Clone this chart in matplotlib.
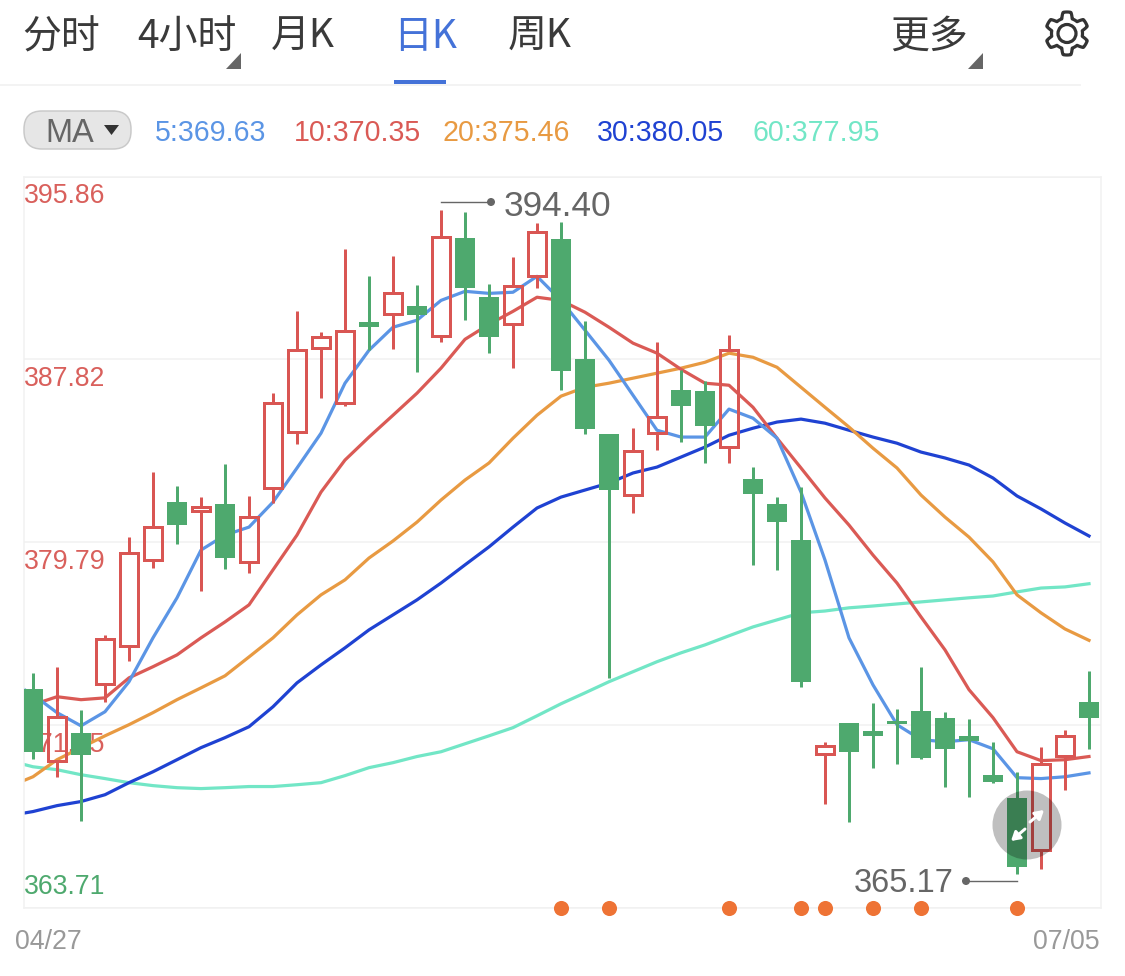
import numpy as np
import matplotlib
matplotlib.use("Agg")
import matplotlib.pyplot as plt
from matplotlib.patches import Circle, FancyBboxPatch, Polygon, Rectangle

# ==========================================
# 1. DATA (harga)
# ==========================================
opens = [373.33, 370.17, 371.40, 373.55, 375.22, 378.99, 381.54, 381.15, 381.45, 378.91,
         382.16, 384.62, 388.31, 385.89, 389.45, 389.80, 390.15, 388.83, 393.14, 390.55,
         389.36, 391.47, 393.09, 387.82, 384.53, 381.85, 384.57, 386.46, 386.42, 383.96,
         382.55, 381.45, 379.87, 370.47, 371.84, 371.48, 371.92, 372.36, 372.06, 371.26,
         369.55, 368.54, 366.26, 370.39, 372.76]
closes = [370.56, 372.10, 370.43, 375.52, 379.30, 380.44, 380.53, 381.32, 379.08, 380.88,
          385.89, 388.22, 388.79, 389.05, 389.23, 390.72, 389.76, 393.18, 390.94, 388.79,
          391.03, 393.44, 387.30, 384.75, 382.07, 383.78, 385.28, 385.76, 384.88, 388.22,
          381.89, 380.66, 373.64, 370.83, 370.56, 371.26, 371.79, 370.30, 370.69, 371.05,
          369.25, 365.47, 370.04, 371.26, 372.06]
highs = [374.03, 374.30, 372.41, 375.70, 380.00, 382.86, 382.24, 381.76, 383.21, 381.81,
         386.33, 389.93, 389.01, 392.65, 391.47, 392.35, 391.07, 394.40, 394.28, 391.12,
         392.30, 393.80, 393.84, 389.49, 384.53, 384.79, 388.57, 387.34, 386.86, 388.88,
         383.08, 381.76, 382.20, 371.00, 371.84, 372.71, 372.45, 374.30, 372.32, 372.01,
         371.00, 369.68, 370.78, 371.53, 374.12]
lows = [370.25, 369.46, 367.53, 372.76, 374.56, 378.64, 379.70, 377.63, 378.60, 378.42,
        381.50, 384.09, 386.11, 385.76, 388.22, 388.26, 387.25, 388.57, 389.54, 388.09,
        387.43, 390.94, 386.46, 384.53, 373.81, 381.06, 383.83, 384.18, 383.26, 383.26,
        378.78, 378.56, 373.42, 368.28, 367.49, 369.86, 370.04, 370.25, 369.03, 368.59,
        369.20, 365.17, 365.42, 368.89, 370.69]

# nilai pertama = hari sebelum candle pertama (kepotong di sisi kiri)
ma5 = [373.68, 373.07, 372.28, 371.70, 372.32, 373.64, 375.57, 377.33, 379.43, 380.09, 380.44,
       381.54, 383.04, 384.57, 386.77, 388.22, 389.23, 389.54, 390.41, 390.81, 390.72,
       390.77, 391.47, 390.41, 389.10, 387.78, 386.24, 384.70, 384.40, 384.40, 385.63,
       385.23, 384.35, 381.98, 378.99, 375.57, 373.50, 371.75, 371.09, 371.00, 371.09,
       370.69, 369.42, 369.38, 369.46, 369.63]
ma10 = [372.50, 372.63, 372.98, 372.85, 372.93, 373.81, 374.30, 374.82, 375.57, 376.27, 377.02,
        378.56, 380.09, 381.98, 383.39, 384.40, 385.36, 386.33, 387.43, 388.70, 389.36,
        389.93, 390.55, 390.41, 389.89, 389.23, 388.53, 388.09, 387.38, 386.77, 386.68,
        385.71, 384.35, 383.04, 381.72, 380.53, 379.21, 377.98, 376.49, 375.04, 373.29,
        372.06, 370.56, 370.17, 370.21, 370.35]
ma20 = [369.03, 369.46, 370.21, 370.74, 371.26, 371.75, 372.28, 372.85, 373.37, 373.90, 374.73,
        375.57, 376.58, 377.46, 378.12, 379.08, 379.83, 380.66, 381.63, 382.51, 383.26,
        384.35, 385.36, 386.20, 386.59, 386.77, 386.99, 387.21, 387.43, 387.69, 388.09,
        387.91, 387.47, 386.59, 385.71, 384.84, 383.91, 383.04, 381.85, 380.88, 380.00,
        378.91, 377.46, 376.67, 375.96, 375.46]
ma30 = [367.75, 367.93, 368.19, 368.37, 368.67, 369.20, 369.68, 370.21, 370.74, 371.18, 371.66,
        372.54, 373.59, 374.38, 375.13, 375.92, 376.58, 377.24, 377.98, 378.78, 379.57,
        380.44, 381.28, 381.76, 382.07, 382.38, 382.82, 383.08, 383.52, 383.96, 384.48,
        384.79, 385.06, 385.19, 385.01, 384.70, 384.40, 384.13, 383.74, 383.48, 383.17,
        382.60, 381.81, 381.24, 380.62, 380.05]
ma60 = [370.17, 369.90, 369.77, 369.55, 369.38, 369.20, 369.07, 368.98, 368.94, 368.98, 369.03,
        369.03, 369.11, 369.20, 369.51, 369.86, 370.08, 370.35, 370.56, 370.91, 371.26,
        371.62, 372.14, 372.67, 373.15, 373.64, 374.08, 374.52, 374.91, 375.26, 375.66,
        376.05, 376.36, 376.67, 376.75, 376.89, 376.97, 377.06, 377.15, 377.24, 377.33,
        377.41, 377.59, 377.76, 377.81, 377.95]

y_ticks = [395.86, 387.82, 379.79, 371.75, 363.71]
tabs = ["分时", "4小时", "月K", "日K", "周K"]
ma_labels = ["5:369.63", "10:370.35", "20:375.46", "30:380.05", "60:377.95"]
date_labels = ["04/27", "07/05"]
signal_days = [22, 24, 29, 32, 33, 35, 37, 41]
max_label = "394.40"
min_label = "365.17"

# ==========================================
# 2. WARNA & FONT
# ==========================================
RED = "#D95653"
GREEN = "#4EA96E"
GRID = "#F1F1F1"
MA_COLORS = ["#5B95E5", "#DA5A55", "#E89A42", "#1F42D2", "#72E6C6"]
CJK = ["Noto Sans CJK SC", "DejaVu Sans"]
LATIN = "Liberation Sans"
PX = 0.72  # 1 px dalam point (dpi 100)

W, H = 1125, 976
fig = plt.figure(figsize=(W / 100, H / 100), dpi=100, facecolor="white")

# ==========================================
# 3. AREA CHART
# ==========================================
left, right, top, bottom = 24, 1101, 176.5, 907.5
ax = fig.add_axes([left / W, 1 - bottom / H, (right - left) / W, (bottom - top) / H])
ax.set_xlim(-0.375, 44.5)
ax.set_ylim(y_ticks[-1], y_ticks[0])
ax.set_yticks(y_ticks)
ax.set_xticks([])
ax.tick_params(length=0, labelleft=False)
ax.grid(axis="y", color=GRID, lw=1.5 * PX)
ax.set_axisbelow(True)
for s in ax.spines.values():
    s.set_color(GRID)
    s.set_linewidth(1.5 * PX)

# label harga, warnanya merah kecuali yang paling bawah
offsets = [-19, -20, -20, -20, 21]
for val, off in zip(y_ticks, offsets):
    ax.annotate(f"{val:.2f}", xy=(0, val), xycoords=("axes fraction", "data"),
                xytext=(0, off * PX), textcoords="offset points", va="center", ha="left",
                fontsize=19.2, family=LATIN, color=GREEN if val == y_ticks[-1] else "#D9605C", zorder=1)

# garis MA
ma_x = np.arange(-1, 45)
for series, color in zip([ma60, ma30, ma20, ma10, ma5], MA_COLORS[::-1]):
    ax.plot(ma_x, series, color=color, lw=3.2 * PX, zorder=2, solid_joinstyle="round")

# candle
for i in range(len(opens)):
    o, c, h, l = opens[i], closes[i], highs[i], lows[i]
    body_top, body_bot = max(o, c), min(o, c)
    if c >= o:
        ax.vlines(i, body_top, h, color=RED, lw=3 * PX, zorder=3)
        ax.vlines(i, l, body_bot, color=RED, lw=3 * PX, zorder=3)
        ax.bar(i, body_top - body_bot, bottom=body_bot, width=0.75, facecolor="none",
               edgecolor=RED, linewidth=3 * PX, zorder=3)
    else:
        ax.vlines(i, l, h, color=GREEN, lw=3 * PX, zorder=3)
        ax.bar(i, body_top - body_bot, bottom=body_bot, width=0.86, color=GREEN, linewidth=0, zorder=3)

# titik sinyal di garis bawah
ax.scatter(signal_days, [y_ticks[-1]] * len(signal_days), s=118, color="#EE7335",
           linewidths=0, clip_on=False, zorder=5)

# ==========================================
# 4. OVERLAY UI (koordinat pixel)
# ==========================================
ui = fig.add_axes([0, 0, 1, 1], zorder=10)
ui.set_xlim(0, W)
ui.set_ylim(H, 0)
ui.axis("off")
ui.patch.set_alpha(0)

tab_x = [22, 137, 271, 393, 508]
for label, x in zip(tabs, tab_x):
    active = label == "日K"
    ui.text(x, 37, label, family=CJK, fontsize=28, ha="left", va="center",
            color="#4472D8" if active else "#3A3A3A")
ui.text(890, 37, "更多", family=CJK, fontsize=28, ha="left", va="center", color="#3A3A3A")

ui.plot([0, 1080], [85, 85], color="#F2F2F2", lw=1.8 * PX)
ui.add_patch(Rectangle((394, 79.5), 52, 4.5, color="#4472D8", lw=0))
for x in [241, 983]:
    ui.add_patch(Polygon([(x, 53), (x, 69), (x - 15, 69)], color="#666666", lw=0))

# ikon gear
ang = np.linspace(0, 2 * np.pi, 361)
rad = 18.5 + 3 * np.clip(2.2 * np.cos(6 * (ang - np.pi / 2)), -1, 1)
ui.add_patch(Polygon(np.c_[1067 + rad * np.cos(ang), 33.5 + rad * np.sin(ang)], fill=False,
                     edgecolor="#333333", lw=3.2 * PX, joinstyle="round"))
ui.add_patch(Circle((1067, 33.5), 9, fill=False, edgecolor="#333333", lw=3.2 * PX))

# tombol MA + legenda
ui.add_patch(FancyBboxPatch((24, 111), 107, 38, boxstyle="round,pad=0,rounding_size=18",
                            facecolor="#E6E6E6", edgecolor="#C9C9C9", lw=1.5 * PX))
ui.text(45, 133, "MA", family=LATIN, fontsize=23.5, ha="left", va="center", color="#666666")
ui.add_patch(Polygon([(104, 125), (119, 125), (111.5, 135)], color="#333333", lw=0))

legend_x = [155, 294, 443, 597, 752]
for label, x, color in zip(ma_labels, legend_x, MA_COLORS):
    ui.text(x, 133, label, family=LATIN, fontsize=20.6, ha="left", va="center", color=color)

# label high / low
ui.plot([441, 491], [202, 202], color="#666666", lw=1.4 * PX)
ui.add_patch(Circle((491, 202), 4, color="#666666", lw=0))
ui.text(504, 206, max_label, family=LATIN, fontsize=25.4, ha="left", va="center", color="#666666")
ui.plot([966, 1017], [881, 881], color="#666666", lw=1.4 * PX)
ui.add_patch(Circle((966, 881), 4, color="#666666", lw=0))
ui.text(854, 883, min_label, family=LATIN, fontsize=23.5, ha="left", va="center", color="#666666")

# tombol expand
ui.add_patch(Circle((1027, 825), 34.5, color="black", alpha=0.25, lw=0))
ui.annotate("", xy=(1044, 810), xytext=(1030, 822),
            arrowprops=dict(arrowstyle="-|>,head_width=0.3,head_length=0.5", color="white", lw=3 * PX, shrinkA=0, shrinkB=0))
ui.annotate("", xy=(1011, 841), xytext=(1025, 829),
            arrowprops=dict(arrowstyle="-|>,head_width=0.3,head_length=0.5", color="white", lw=3 * PX, shrinkA=0, shrinkB=0))

# tanggal
ui.text(15, 942, date_labels[0], family=LATIN, fontsize=19.3, ha="left", va="center", color="#999999")
ui.text(1100, 942, date_labels[1], family=LATIN, fontsize=19.3, ha="right", va="center", color="#999999")

fig.savefig("out.png", dpi=100, facecolor="white")
